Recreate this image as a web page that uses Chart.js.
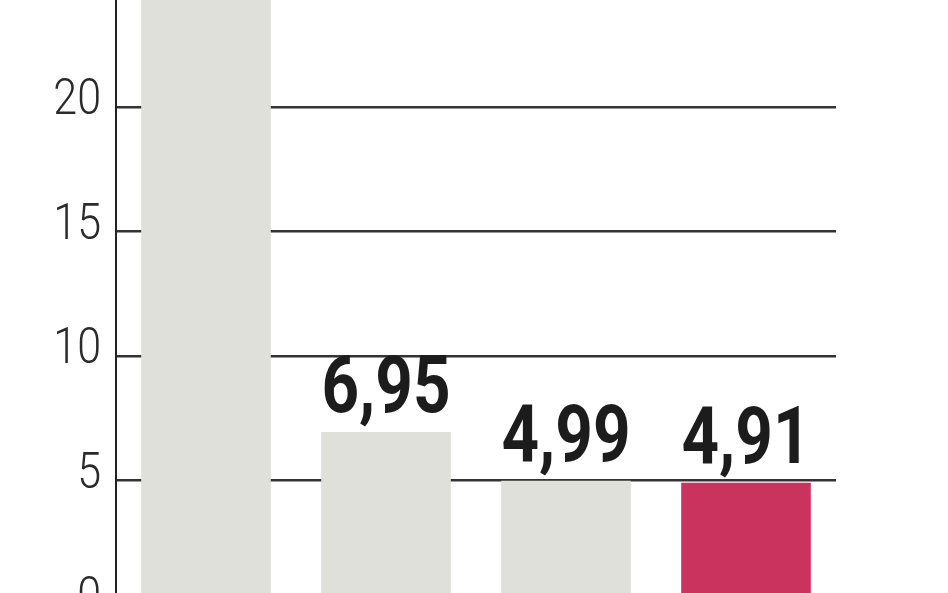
<!DOCTYPE html>
<html>
<head>
<meta charset="utf-8">
<script src="https://cdn.jsdelivr.net/npm/chart.js@4.4.0/dist/chart.umd.min.js"></script>
<style>
  html, body { margin: 0; padding: 0; background: #fff; overflow: hidden; }
  body { width: 948px; height: 593px; position: relative; }
  #wrap { position: absolute; left: 0; top: -100px; width: 948px; height: 749px; }
</style>
</head>
<body>
<div id="wrap"><canvas id="mycanvas"></canvas></div>
<script>
// values (first bar runs past the top edge)
var categories = ['1', '2', '3', '4'];
var values = [28, 6.95, 4.99, 4.91];
var barColors = ['#e0e0da', '#e0e0da', '#e0e0da', '#c9335d'];
var tickValues = [0, 5, 10, 15, 20, 25];

// narrow text: normal fonts squeezed a bit sideways
function narrowText(ctx, txt, x, y, sx, align) {
  ctx.save();
  ctx.translate(x, y);
  ctx.scale(sx, 1);
  ctx.textAlign = align;
  ctx.fillText(txt, 0, 0);
  ctx.restore();
}

var valueLabels = {
  id: 'valueLabels',
  afterDatasetsDraw: function(chart) {
    var ctx = chart.ctx;
    var meta = chart.getDatasetMeta(0);
    ctx.save();
    ctx.font = 'bold 80px Roboto, "DejaVu Sans", sans-serif';
    ctx.fillStyle = '#1c1c1c';
    ctx.textBaseline = 'alphabetic';
    meta.data.forEach(function(bar, i) {
      var txt = values[i].toFixed(2).replace('.', ',');
      narrowText(ctx, txt, bar.x, bar.y - 20, 0.82, 'center');
    });
    ctx.restore();
  }
};

var axisLabels = {
  id: 'axisLabels',
  afterDraw: function(chart) {
    var ctx = chart.ctx;
    var y = chart.scales.y;
    ctx.save();
    ctx.font = '300 50px Roboto, "DejaVu Sans", sans-serif';
    ctx.fillStyle = '#2a2a2a';
    ctx.textBaseline = 'alphabetic';
    y.ticks.forEach(function(t) {
      narrowText(ctx, String(t.value), y.right - 15, y.getPixelForValue(t.value) + 7, 0.86, 'right');
    });
    ctx.restore();
  }
};

var chartdata = {
  labels: categories,
  datasets: [
    {
      data: values,
      backgroundColor: barColors,
      borderWidth: 0,
      barPercentage: 0.72,
      categoryPercentage: 1.0
    }
  ]
};

var ctx = document.getElementById('mycanvas');

var barGraph = new Chart(ctx, {
  type: 'bar',
  data: chartdata,
  plugins: [valueLabels, axisLabels],
  options: {
    responsive: true,
    maintainAspectRatio: false,
    animation: false,
    layout: { padding: { left: 0, right: 112, top: 82.5, bottom: 44 } },
    plugins: { legend: { display: false }, tooltip: { enabled: false } },
    scales: {
      x: { display: false },
      y: {
        min: 0,
        max: 25,
        afterBuildTicks: function(scale) {
          scale.ticks = tickValues.map(function(v) { return { value: v }; });
        },
        afterFit: function(scale) { scale.width = 116; },
        border: { display: true, color: '#222', width: 2 },
        grid: { color: '#333', lineWidth: 2.5, drawTicks: false },
        ticks: { display: false }
      }
    }
  }
});
</script>
</body>
</html>
